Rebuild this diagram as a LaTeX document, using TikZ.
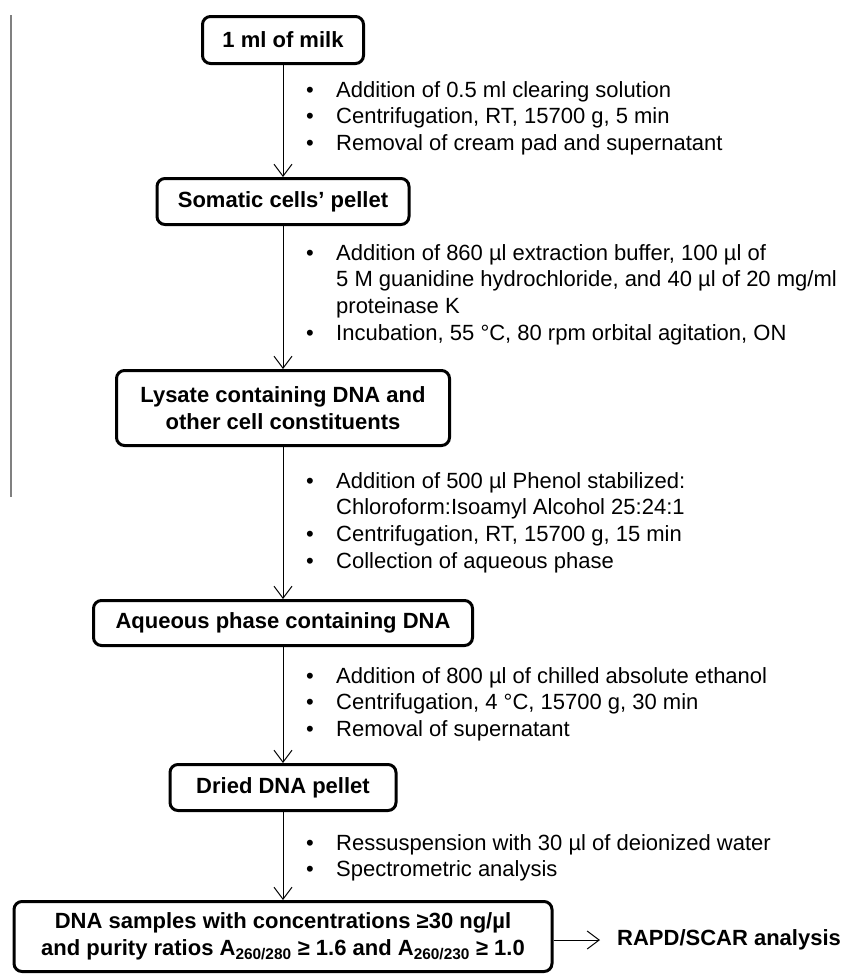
\documentclass[tikz,border=0pt]{standalone}
\usepackage{fontspec}
\setmainfont{Liberation Sans}
\usepackage{tikz}
\usetikzlibrary{arrows.meta,positioning}

\begin{document}
\begin{tikzpicture}[
    x=1pt, y=-1pt,
    stage/.style={draw=black, line width=3pt, rounded corners=8pt, align=center, inner sep=0pt, font=\fontsize{22}{26.7}\selectfont\bfseries},
    notes/.style={anchor=base west, inner sep=0pt, font=\fontsize{22}{26.7}\selectfont},
    arrow/.style={-{Straight Barb[length=12pt, width=18pt]}, line width=1pt, draw=black}
]
    \useasboundingbox (0,0) rectangle (846,975);

    % Margin rule
    \draw[gray, line width=2pt] (11,15) -- (11,497);

    % Stages
    \node[stage, minimum width=161, minimum height=47] (milk) at (283, 40) {1 ml of milk};
    \node[stage, minimum width=252, minimum height=46] (cells) at (283, 201.5) {Somatic cells’ pellet};
    \node[stage, minimum width=333, minimum height=75] (lysate) at (283, 408) {Lysate containing DNA and\\other cell constituents};
    \node[stage, minimum width=379, minimum height=45] (aqueous) at (283, 623) {Aqueous phase containing DNA};
    \node[stage, minimum width=226, minimum height=46] (dried) at (283, 787.5) {Dried DNA pellet};
    \node[stage, minimum width=538, minimum height=70] (samples) at (283, 936.5) {DNA samples with concentrations ≥30 ng/µl\\and purity ratios A\textsubscript{260/280} ≥ 1.6 and A\textsubscript{260/230} ≥ 1.0};
    \node[font=\fontsize{22}{26.7}\selectfont\bfseries, anchor=west, inner xsep=17pt, inner ysep=0pt] (rapd) at (600, 940) {RAPD/SCAR analysis};

    % Steps between stages
    \node[notes] (n1) at (306, 97) {\begin{tabular}[t]{@{}p{30pt}@{}l@{}}
        • & Addition of 0.5 ml clearing solution\\
        • & Centrifugation, RT, 15700 g, 5 min\\
        • & Removal of cream pad and supernatant
    \end{tabular}};
    \node[notes] (n2) at (306, 260) {\begin{tabular}[t]{@{}p{30pt}@{}l@{}}
        • & Addition of 860 µl extraction buffer, 100 µl of\\
          & 5 M guanidine hydrochloride, and 40 µl of 20 mg/ml\\
          & proteinase K\\
        • & Incubation, 55 °C, 80 rpm orbital agitation, ON
    \end{tabular}};
    \node[notes] (n3) at (306, 488) {\begin{tabular}[t]{@{}p{30pt}@{}l@{}}
        • & Addition of 500 µl Phenol stabilized:\\
          & Chloroform:Isoamyl Alcohol 25:24:1\\
        • & Centrifugation, RT, 15700 g, 15 min\\
        • & Collection of aqueous phase
    \end{tabular}};
    \node[notes] (n4) at (306, 683) {\begin{tabular}[t]{@{}p{30pt}@{}l@{}}
        • & Addition of 800 µl of chilled absolute ethanol\\
        • & Centrifugation, 4 °C, 15700 g, 30 min\\
        • & Removal of supernatant
    \end{tabular}};
    \node[notes] (n5) at (306, 850) {\begin{tabular}[t]{@{}p{30pt}@{}l@{}}
        • & Ressuspension with 30 µl of deionized water\\
        • & Spectrometric analysis
    \end{tabular}};

    % Flow
    \draw[arrow] (milk) -- (cells);
    \draw[arrow] (cells) -- (lysate);
    \draw[arrow] (lysate) -- (aqueous);
    \draw[arrow] (aqueous) -- (dried);
    \draw[arrow] (dried) -- (samples);
    \draw[arrow] (samples.east |- rapd.west) -- (rapd.west);

\end{tikzpicture}
\end{document}
